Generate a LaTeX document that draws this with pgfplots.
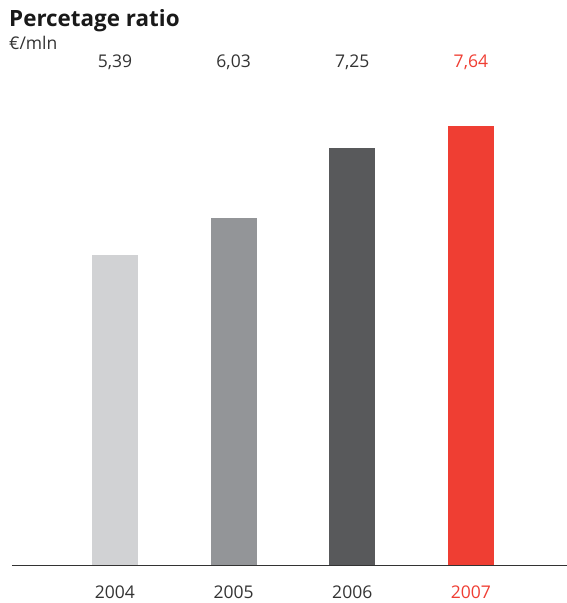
\documentclass[border=0pt]{standalone}
\usepackage{pgfplots}
\pgfplotsset{compat=1.18}
\usepackage{fontspec}
\setmainfont{Open Sans}
\definecolor{c1}{HTML}{D1D2D4}
\definecolor{c2}{HTML}{939598}
\definecolor{c3}{HTML}{58595B}
\definecolor{c4}{HTML}{EF3E33}
\definecolor{txt}{HTML}{333333}
\begin{document}
\begin{tikzpicture}[x=1pt,y=1pt]
\useasboundingbox (0,0) rectangle (567,603);
\node[anchor=base west, inner sep=0, font=\fontsize{22.4}{26}\selectfont\bfseries, text=black!90] at (9,576) {Percetage ratio};
\node[anchor=base west, inner sep=0, font=\fontsize{17.5}{20}\selectfont, text=txt] at (9,553) {€/mln};
\begin{axis}[
  at={(12pt,38pt)}, anchor=south west,
  scale only axis, width=555pt, height=460pt,
  xmin=-0.868, xmax=3.81, ymin=0, ymax=8,
  axis x line*=bottom, hide y axis,
  axis line style={-, draw=txt, line width=1pt},
  xtick={0,1,2,3}, major tick length=0pt,
  xticklabels={2004,2005,2006,\textcolor{c4}{2007}},
  xticklabel style={anchor=base, yshift=-33pt, font=\fontsize{17.5}{20}\selectfont, text=txt},
  ybar, bar width=46pt, bar shift=0pt,
  clip=false,
]
\addplot[fill=c1, draw=none] coordinates {(0,5.39)};
\addplot[fill=c2, draw=none] coordinates {(1,6.03)};
\addplot[fill=c3, draw=none] coordinates {(2,7.25)};
\addplot[fill=c4, draw=none] coordinates {(3,7.64)};
\node[anchor=base, font=\fontsize{17.5}{20}\selectfont, text=txt] at (axis cs:0,8.66) {5,39};
\node[anchor=base, font=\fontsize{17.5}{20}\selectfont, text=txt] at (axis cs:1,8.66) {6,03};
\node[anchor=base, font=\fontsize{17.5}{20}\selectfont, text=txt] at (axis cs:2,8.66) {7,25};
\node[anchor=base, font=\fontsize{17.5}{20}\selectfont, text=c4] at (axis cs:3,8.66) {7,64};
\end{axis}
\end{tikzpicture}
\end{document}
